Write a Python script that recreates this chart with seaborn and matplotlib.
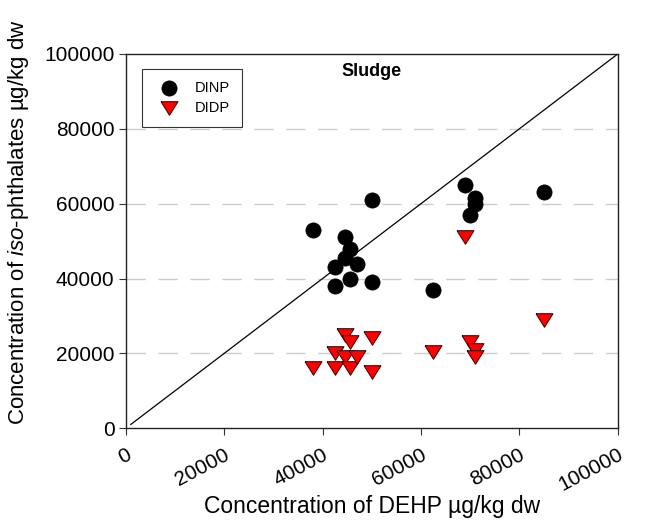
import matplotlib
matplotlib.use('Agg')
import matplotlib.pyplot as plt
import seaborn as sns
import pandas as pd

# DEHP concentration per sample (x), ug/kg dw
dehp = [38000, 42500, 42500, 44500, 44500, 45500, 45500, 47000,
        50000, 50000, 62500, 69000, 70000, 71000, 71000, 85000]
# iso-phthalates per sample (y)
dinp = [53000, 43000, 38000, 51000, 45500, 48000, 40000, 44000,
        39000, 61000, 37000, 65000, 57000, 61500, 60000, 63000]
didp = [16000, 20000, 16000, 25000, 19000, 23000, 16000, 19000,
        24000, 15000, 20500, 51000, 23000, 21000, 19000, 29000]
ticks = [0, 20000, 40000, 60000, 80000, 100000]

df = pd.DataFrame({'DEHP': dehp, 'DINP': dinp, 'DIDP': didp})

sns.set_style('ticks')
plt.rcParams['font.family'] = ['Liberation Sans', 'DejaVu Sans']
plt.rcParams['mathtext.fontset'] = 'custom'
plt.rcParams['mathtext.rm'] = 'Liberation Sans'
plt.rcParams['mathtext.it'] = 'Liberation Sans:italic'
for k in ['text.color', 'axes.labelcolor', 'xtick.color', 'ytick.color']:
    plt.rcParams[k] = 'black'

fig = plt.figure(figsize=(6.52, 5.32), dpi=100)
ax = fig.add_axes([0.1928, 0.1949, 0.7546, 0.7036])

# dashed grid
for yv in ticks[1:-1]:
    ax.axhline(yv, color='#cccccc', lw=1, dashes=(14, 9), zorder=0)

# 1:1 line
ax.plot([1000, 100000], [1000, 100000], color='black', lw=0.9, zorder=1)

# flattened down-triangle like the original
tri = [(-1, 0.8), (1, 0.8), (0, -0.8), (-1, 0.8)]

sns.scatterplot(data=df, x='DEHP', y='DINP', ax=ax, marker='o', s=120,
                color='black', edgecolor='black', linewidth=0.5,
                label='DINP', zorder=3)
sns.scatterplot(data=df, x='DEHP', y='DIDP', ax=ax, marker=tri, s=150,
                color='red', edgecolor='#300000', linewidth=0.7,
                label='DIDP', zorder=3)

ax.set_xlim(0, 100000)
ax.set_ylim(0, 100000)
ax.set_xticks(ticks)
ax.set_yticks(ticks)
ax.set_xticklabels([str(t) for t in ticks], rotation=28, ha='right',
                   rotation_mode='anchor', fontsize=15)
ax.set_yticklabels([str(t) for t in ticks], fontsize=15)
ax.tick_params(direction='out', length=5, width=0.8, color='#333333',
               pad=3)
ax.tick_params(axis='x', pad=7)
for sp in ax.spines.values():
    sp.set_linewidth(1.0)
    sp.set_color('#222222')

ax.set_xlabel('Concentration of DEHP µg/kg dw', fontsize=16.5)
ax.set_ylabel(r'Concentration of $\mathit{iso}$-phthalates µg/kg dw',
              fontsize=16)
ax.yaxis.set_label_coords(-0.218, 0.552)
ax.xaxis.set_label_coords(0.5, -0.21)
ax.xaxis.label.set_va('center')
ax.yaxis.label.set_va('center')

ax.text(0.5, 0.975, 'Sludge', transform=ax.transAxes, ha='center',
        va='top', fontsize=13, fontweight='bold')

leg = ax.legend(loc='upper left', bbox_to_anchor=(0.034, 0.959),
                fontsize=10.5, frameon=True, fancybox=False,
                edgecolor='black', borderpad=0.8, handletextpad=0.8,
                labelspacing=0.4, markerscale=1.0, borderaxespad=0)
leg.get_frame().set_linewidth(0.8)

fig.savefig('out.png', dpi=100)
